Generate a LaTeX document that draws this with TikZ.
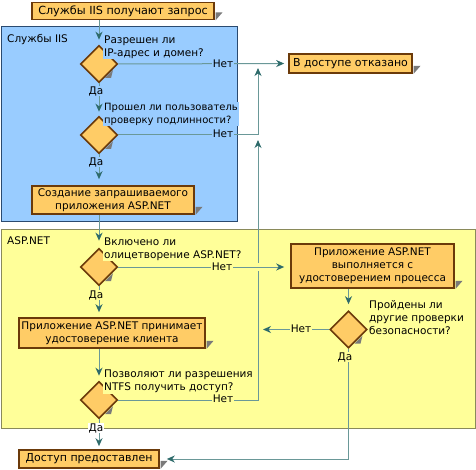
\documentclass[tikz,border=0pt]{standalone}
\usepackage{fontspec}
\setmainfont{DejaVu Sans}
\usetikzlibrary{shapes.geometric,arrows.meta,calc}
\definecolor{iisblue}{HTML}{99CCFF}
\definecolor{iisedge}{HTML}{2A4A70}
\definecolor{aspyel}{HTML}{FFFF99}
\definecolor{aspedge}{HTML}{8A8A5A}
\definecolor{boxfill}{HTML}{FFCC66}
\definecolor{boxedge}{HTML}{6B3A0A}
\definecolor{shd}{HTML}{7A7A7A}
\definecolor{conn}{HTML}{6A9898}
\definecolor{tipc}{HTML}{2E6B6B}
\begin{document}
\begin{tikzpicture}[x=1pt,y=-1pt,
  font=\fontsize{10.5}{13}\selectfont,
  region/.style={line width=1pt},
  stepbox/.style={draw=boxedge,fill=boxfill,line width=1.6pt,inner sep=1pt,align=center},
  decision/.style={diamond,draw=boxedge,fill=boxfill,line width=1.6pt,minimum width=37pt,minimum height=37pt,inner sep=0pt},
  arr/.style={draw=conn,line width=1pt,-{Stealth[length=8pt,width=7pt,inset=2.5pt,color=tipc]}},
  lbl/.style={inner sep=0.5pt},
  qtext/.style={inner sep=1pt,align=left,anchor=west},
  shadowc/.style={fill=shd}
]
\useasboundingbox (0,0) rectangle (476,470);
% regions
\draw[region,draw=iisedge,fill=iisblue] (1,27) rectangle (237,222);
\node[anchor=west,inner sep=0pt] (iislbl) at (7,40) {Службы IIS};
\draw[region,draw=aspedge,fill=aspyel] (1,230) rectangle (475,428);
\node[anchor=west,inner sep=0pt] (asplbl) at (7,241) {ASP.NET};

% boxes
\node[stepbox,minimum width=182pt,minimum height=17pt,font=\fontsize{11.2}{13}\selectfont] (top) at (123,11) {Службы IIS получают запрос};
\node[stepbox,minimum width=123pt,minimum height=19pt,font=\fontsize{11}{13}\selectfont] (deny) at (350.5,63.5) {В доступе отказано};
\node[stepbox,minimum width=162pt,minimum height=28pt] (create) at (113,200) {Создание запрашиваемого\\приложения ASP.NET};
\node[stepbox,minimum width=163pt,minimum height=44pt] (proc) at (372.5,266) {Приложение ASP.NET\\выполняется с\\удостоверением процесса};
\node[stepbox,minimum width=186pt,minimum height=30pt] (client) at (112,333) {Приложение ASP.NET принимает\\удостоверение клиента};
\node[stepbox,minimum width=140pt,minimum height=18pt,font=\fontsize{11}{13}\selectfont] (grant) at (89,459) {Доступ предоставлен};

% box shadows
\foreach \b in {top,deny,create,proc,client,grant}{
  \fill[shadowc] ([yshift=8pt,xshift=0.8pt]\b.south east) -- ++(7,0) -- ([yshift=0pt,xshift=0.8pt]\b.south east) -- cycle;
}

% decisions
\node[decision] (d1) at (99,64) {};
\node[decision] (d2) at (99,135) {};
\node[decision] (d3) at (99,267) {};
\node[decision] (d4) at (348.5,329.5) {};
\node[decision] (d5) at (99,400) {};
\foreach \d in {d1,d2,d3,d4,d5}{
  \fill[shadowc] ($(\d)+(6,14)$) -- ($(\d)+(14,6)$) -- ($(\d)+(12,14)$) -- cycle;
}

% junction points
\coordinate (j1) at (258,68);
\coordinate (j2) at (258,140);
\coordinate (j3) at (263,329.5);

% connectors
\draw[arr,shorten >=5pt] (top.south -| d1) -- (d1.north);
\draw[arr,shorten >=4pt] (d1.south) -- (d2.north);
\draw[arr,shorten >=6pt] (d2.south) -- (d2.south |- create.north);
\draw[arr,shorten >=7pt] (create.south -| d3) -- (d3.north);
\draw[arr,shorten >=5pt] (d3.south) -- (d3.south |- client.north);
\draw[arr,shorten >=5pt] (client.south -| d5) -- (d5.north);
\draw[arr,shorten >=3pt] (d5.south) -- (d5.south |- grant.north);
\draw[arr,shorten >=4pt] (d1.east) -- (deny.west);
\draw[arr] (d2.east) -| (j1);
\draw[arr] (d5.east) -| (j2);
\fill[aspyel] (255.5,263) rectangle (260.5,271);
\draw[arr,shorten >=6pt] (d3.east) -- (d3.east -| proc.west);
\draw[arr,shorten >=6pt] (proc.south -| d4) -- (d4.north);
\draw[arr] (d4.west) -- (j3);
\draw[arr,shorten >=7pt] (d4.south) |- (grant.east);

% labels
\node[lbl,fill=iisblue] (y1) at (96,91) {Да};
\node[lbl,fill=iisblue] (y2) at (96,162) {Да};
\node[lbl,fill=aspyel] (y3) at (96,295) {Да};
\node[lbl,fill=white] (y5) at (96,428) {Да};
\node[lbl,fill=aspyel] (y4) at (345,357) {Да};
\node[lbl,fill=iisblue] (n1) at (223,64) {Нет};
\node[lbl,fill=iisblue] (n2) at (223,134) {Нет};
\node[lbl,fill=aspyel] (n3) at (222,267) {Нет};
\node[lbl,fill=aspyel] (n4) at (301,329) {Нет};
\node[lbl,fill=aspyel] (n5) at (223,399) {Нет};

% question texts
\node[qtext,fill=iisblue] (q1) at (103,47) {Разрешен ли\\IP-адрес и домен?};
\node[qtext,fill=iisblue,font=\fontsize{10}{13}\selectfont] (q2) at (103,114) {Прошел ли пользователь\\проверку подлинности?};
\node[qtext,fill=aspyel] (q3) at (103,249) {Включено ли\\олицетворение ASP.NET?};
\node[qtext,fill=aspyel] (q4) at (368,318) {Пройдены ли\\другие проверки\\безопасности?};
\node[qtext,fill=aspyel] (q5) at (103,381.5) {Позволяют ли разрешения\\NTFS получить доступ?};
\end{tikzpicture}
\end{document}
